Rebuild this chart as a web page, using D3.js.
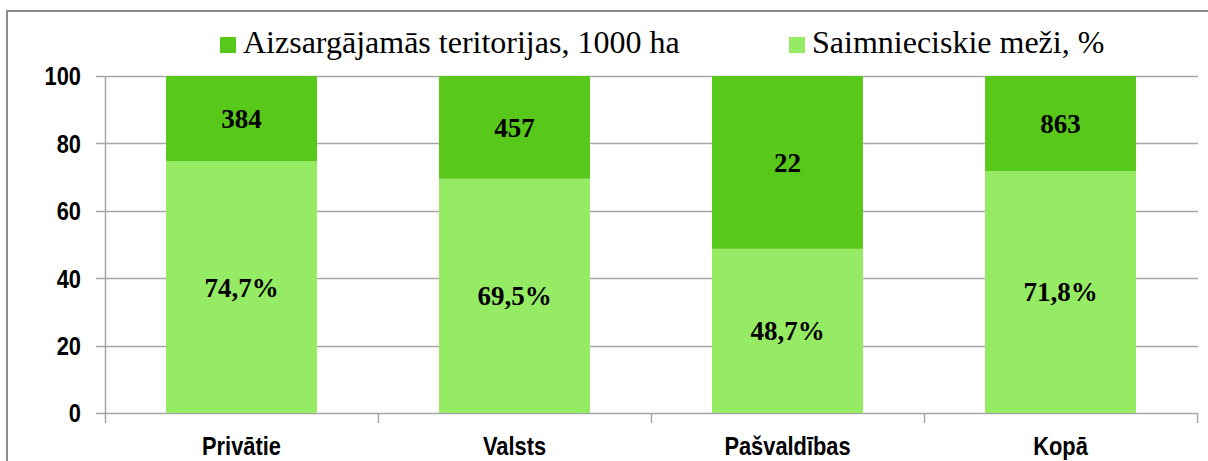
<!DOCTYPE html>
<html>
<head>
<meta charset="utf-8">
<script src="https://cdn.jsdelivr.net/npm/d3@7"></script>
<style>
  body { margin: 0; background: #fff; }
  svg { display: block; }
</style>
</head>
<body>
<div id="chart"></div>
<script>
// data
let categories = ["Privātie", "Valsts", "Pašvaldības", "Kopā"];
let forestShare = [74.7, 69.5, 48.7, 71.8];     // Saimnieciskie meži, %
let protectedArea = [384, 457, 22, 863];        // Aizsargājamās teritorijas, 1000 ha
let yTicks = [0, 20, 40, 60, 80, 100];
let seriesNames = ["Aizsargājamās teritorijas, 1000 ha", "Saimnieciskie meži, %"];

let width = 1208, height = 461;
let darkGreen = "#58c91a", lightGreen = "#96eb64";
let gridColor = "#a6a6a6";
let sans = "'Liberation Sans', Arial, sans-serif";
let serif = "'Liberation Serif', 'Times New Roman', serif";
let squeeze = 0.84; // axis font is a narrow one, so compress it sideways

let svg = d3.select("#chart").append("svg")
    .attr("width", width)
    .attr("height", height);

// outer frame (runs off to the right and bottom)
svg.append("rect")
    .attr("x", 7).attr("y", 11)
    .attr("width", 1220).attr("height", 470)
    .attr("fill", "none")
    .attr("stroke", "#8c8c8c")
    .attr("stroke-width", 2);

let y = d3.scaleLinear().domain([0, 100]).range([413, 76]);
let x = d3.scaleBand()
    .domain(categories)
    .range([105, 1197])
    .paddingInner(0.447)
    .paddingOuter(0.2235);

// gridlines
svg.selectAll(".grid")
    .data(yTicks)
    .join("line")
    .attr("class", "grid")
    .attr("x1", 96).attr("x2", 1198)
    .attr("y1", d => Math.round(y(d)) + 0.5)
    .attr("y2", d => Math.round(y(d)) + 0.5)
    .attr("stroke", gridColor)
    .attr("stroke-width", 1.5);

// y tick labels
svg.selectAll(".ylab")
    .data(yTicks)
    .join("text")
    .attr("class", "ylab")
    .attr("transform", d => `translate(81,${y(d)}) scale(${squeeze},1)`)
    .attr("dy", "0.36em")
    .attr("text-anchor", "end")
    .style("font-family", sans)
    .style("font-weight", "bold")
    .style("font-size", "26px")
    .text(d => d);

let rows = categories.map((c, i) => ({
    name: c, share: forestShare[i], area: protectedArea[i]
}));

// light green lower part
svg.selectAll(".lower")
    .data(rows)
    .join("rect")
    .attr("class", "lower")
    .attr("x", d => x(d.name))
    .attr("width", x.bandwidth())
    .attr("y", d => y(d.share))
    .attr("height", d => y(0) - y(d.share))
    .attr("fill", lightGreen);

// dark green upper part
svg.selectAll(".upper")
    .data(rows)
    .join("rect")
    .attr("class", "upper")
    .attr("x", d => x(d.name))
    .attr("width", x.bandwidth())
    .attr("y", y(100))
    .attr("height", d => y(d.share) - y(100))
    .attr("fill", darkGreen);

// y axis line and bottom axis
svg.append("line")
    .attr("x1", 105.5).attr("x2", 105.5)
    .attr("y1", y(100)).attr("y2", y(0))
    .attr("stroke", gridColor).attr("stroke-width", 1.5);

let bounds = categories.map(c => x(c) - x.step() * x.paddingInner() / 2)
    .concat([1197]);
bounds[0] = 105;
svg.selectAll(".xtick")
    .data(bounds)
    .join("line")
    .attr("class", "xtick")
    .attr("x1", d => Math.round(d) + 0.5).attr("x2", d => Math.round(d) + 0.5)
    .attr("y1", y(0)).attr("y2", y(0) + 10)
    .attr("stroke", gridColor).attr("stroke-width", 1.5);

// category labels
svg.selectAll(".xlab")
    .data(categories)
    .join("text")
    .attr("class", "xlab")
    .attr("transform", d => `translate(${x(d) + x.bandwidth() / 2},455) scale(${squeeze},1)`)
    .attr("text-anchor", "middle")
    .style("font-family", sans)
    .style("font-weight", "bold")
    .style("font-size", "26px")
    .text(d => d);

// value labels
svg.selectAll(".lowlab")
    .data(rows)
    .join("text")
    .attr("class", "lowlab")
    .attr("x", d => x(d.name) + x.bandwidth() / 2)
    .attr("y", d => (y(0) + y(d.share)) / 2)
    .attr("dy", "0.35em")
    .attr("text-anchor", "middle")
    .style("font-family", serif)
    .style("font-weight", "bold")
    .style("font-size", "27px")
    .text(d => d.share.toFixed(1).replace(".", ",") + "%");

svg.selectAll(".uplab")
    .data(rows)
    .join("text")
    .attr("class", "uplab")
    .attr("x", d => x(d.name) + x.bandwidth() / 2)
    .attr("y", d => (y(100) + y(d.share)) / 2)
    .attr("dy", "0.35em")
    .attr("text-anchor", "middle")
    .style("font-family", serif)
    .style("font-weight", "bold")
    .style("font-size", "27px")
    .text(d => d.area);

// legend
let legendX = [220, 789];
let legend = svg.selectAll(".legend")
    .data(seriesNames)
    .join("g")
    .attr("class", "legend")
    .attr("transform", (d, i) => `translate(${legendX[i]},37)`);
legend.append("rect")
    .attr("width", 16).attr("height", 16)
    .attr("fill", (d, i) => i === 0 ? darkGreen : lightGreen);
legend.append("text")
    .attr("x", 23)
    .attr("y", 16)
    .style("font-family", serif)
    .style("font-size", "32px")
    .text(d => d);
</script>
</body>
</html>
